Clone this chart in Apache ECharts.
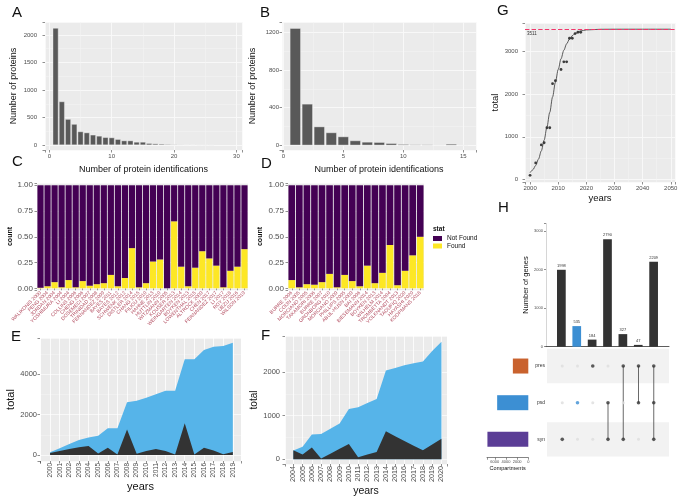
<!DOCTYPE html>
<html><head><meta charset="utf-8">
<script src="https://cdn.jsdelivr.net/npm/echarts@6/dist/echarts.min.js"></script>
<style>html,body{margin:0;padding:0;background:#fff}#c{width:685px;height:498px}</style>
</head><body><div id="c"></div>
<script>
// ---------- DATA ----------
// A
const aIds = [1,2,3,4,5,6,7,8,9,10,11,12,13,14,15,16,17,18,19,20,21,22,23,24,25,26];
const aCounts = [2125,790,470,380,245,225,185,165,140,135,105,80,80,55,55,32,25,20,14,10,8,7,5,4,3,2];
// B
const bIds = [1,2,3,4,5,6,7,8,9,10,11,12,13,14,15];
const bCounts = [1243,439,198,135,92,50,35,32,21,11,7,7,3,14,3];
// C
const cStudies = ["WALIKONIS 2000","PENG 2004","JORDAN 2004","YOSHIMURA 2004","LI 2004","COLLINS 2006","CHENG 2006","DOSEMECI 2007","TRINIDAD 2008","FERNANDEZ 2009","BAYES 2011","BAYES 2012","SCHWENK 2012","DISTLER 2014","CHANG 2015","FILIOU 2010","HAHNE 2013","HUTTLIN 2010","WITZMANN 2005","KOUSER 2013","WEINGARTEN 2014","BOYKEN 2013","LOWENTHAL 2015","ALTROCK 2009","CHEN 2017","FERNANDEZ 2017","LI 2017","ROY 2018","UEZU 2016","WILSON 2019"];
const cFound    = [0.005,0.02,0.06,0.01,0.08,0.01,0.07,0.025,0.04,0.05,0.13,0.02,0.10,0.39,0.01,0.05,0.26,0.28,0.00,0.65,0.21,0.02,0.20,0.36,0.29,0.22,0.01,0.17,0.21,0.38];
const cNotFound = [0.995,0.98,0.94,0.99,0.92,0.99,0.93,0.975,0.96,0.95,0.87,0.98,0.90,0.61,0.99,0.95,0.74,0.72,1.00,0.35,0.79,0.98,0.80,0.64,0.71,0.78,0.99,0.83,0.79,0.62];
// D
const dStudies = ["BURRE 2006","COIJN 2005","MORCIANO 2005","TAKAMORI 2006","BURRE 2007","GRONBORG 2010","MORCIANO 2009","PHILLIPS 2005","ABUL-HUSN 2009","BAI 2006","BIESEMANN 2014","BOYKEN 2013","WILHELM 2014","TROMBETTA 2004","VOLKNANDT 2013","TAOUFIQ 2020","HAYASHI 2020","KOOPMANS 2018"];
const dFound    = [0.08,0.01,0.04,0.035,0.06,0.14,0.01,0.13,0.07,0.02,0.22,0.05,0.15,0.42,0.03,0.17,0.32,0.50];
const dNotFound = [0.92,0.99,0.96,0.965,0.94,0.86,0.99,0.87,0.93,0.98,0.78,0.95,0.85,0.58,0.97,0.83,0.68,0.50];
// E
const eYears = [2000,2001,2002,2003,2004,2005,2006,2007,2008,2009,2010,2011,2012,2013,2014,2015,2016,2017,2018,2019];
const eTotal = [130,330,540,740,870,950,1320,1320,2600,2680,2830,3000,3170,3170,4730,4730,5180,5350,5380,5540];
const eNew   = [100,200,300,380,450,80,360,20,1260,60,200,300,200,20,1570,20,360,220,40,150];
const eMark  = [[2009.8,1500]];
// F
const fYears = [2004,2005,2006,2007,2008,2009,2010,2011,2012,2013,2014,2015,2016,2017,2018,2019,2020];
const fTotal = [200,290,570,580,700,820,1150,1190,1290,1380,2030,2090,2150,2200,2240,2480,2690];
const fNew   = [210,110,270,20,130,240,350,50,110,170,640,530,420,310,210,340,470];
const fMark  = [[2009.3,500],[2009.8,500]];
// G
const gYears = [2000,2002,2004,2005,2006,2007,2008,2009,2011,2012,2013,2014,2015,2016,2017,2018];
const gTotal = [100,390,810,860,1210,1210,2240,2310,2570,2750,2750,3300,3300,3410,3440,3440];
const gFitYears = [2000,2001,2002,2003,2004,2005,2006,2007,2008,2009,2010,2011,2012,2013,2014,2015,2016,2018,2020,2025,2030,2040,2050];
const gFit      = [160,230,330,480,670,920,1230,1570,1930,2270,2570,2820,3020,3170,3280,3360,3410,3470,3495,3509,3511,3511,3511];
const gAsym = 3511;
// H
const hSets = ['syn','psd','pres'];
const hSetSizes = [7324,5581,2767];
const hSetColors = ['#5B3D96','#3C8FD3','#C9622E'];
const hBars = [1998,535,184,2790,327,47,2209];
const hMembers = [['syn'],['psd'],['pres'],['psd','syn'],['pres','syn'],['pres','psd'],['pres','psd','syn']];
const hBarColors = ['#333333','#3C8FD3','#333333','#333333','#333333','#333333','#333333'];
const hBandColors = ['#F2F2F2','rgba(0,0,0,0)','#F2F2F2'];

// ---------- HELPERS ----------
const FONT = "'Liberation Sans', Arial, sans-serif";
function onStep(v, s){ const r = v/s; return Math.abs(r-Math.round(r))<1e-6; }
function valAxis(gi, min, max, step, o){
  o = o||{};
  const lo = o.lo==null ? -Infinity : o.lo, hi = o.hi==null ? Infinity : o.hi;
  const ax = {
    type:'value', gridIndex:gi, min:min, max:max,
    minInterval:step, maxInterval:step, splitNumber:Math.max(2, Math.round((max-min)/step)),
    axisLine:{show:!!o.line, onZero:false, lineStyle:{color:o.lineColor||'#333', width:0.6}},
    axisTick:{show:true, length:o.tick==null?2.5:o.tick, lineStyle:{color:'#444', width:0.6}},
    axisLabel:{show:o.labels!==false, fontSize:o.fs||6, color:'#4D4D4D', margin:o.margin==null?3:o.margin, fontFamily:FONT, rotate:o.rotate||0,
      formatter:function(v){ return (onStep(v,step) && v>=lo-1e-9 && v<=hi+1e-9) ? (o.fmt? o.fmt(v) : String(Math.round(v))) : ''; }},
    splitLine:{show:o.split!==false, lineStyle:{color:'#FFFFFF', width:0.8}},
    name:o.name||'', nameLocation:'middle', nameGap:o.nameGap||14,
    nameTextStyle:{fontSize:o.nameSize||9, color:'#111', fontFamily:FONT, fontWeight:o.nameWeight||'normal'}
  };
  if (o.inverse) ax.inverse = true;
  return ax;
}
// hidden axis that only draws thin (minor) white grid lines
function minorAxis(gi, min, max, step){
  return {type:'value', gridIndex:gi, min:min, max:max, minInterval:step, maxInterval:step,
    splitNumber:Math.max(2, Math.round((max-min)/step)),
    axisLine:{show:false, onZero:false}, axisTick:{show:false}, axisLabel:{show:false},
    splitLine:{show:true, lineStyle:{color:'#F5F5F5', width:0.5}}};
}
function catAxis(gi, data){
  return {type:'category', gridIndex:gi, data:data,
    axisLine:{show:false}, axisTick:{show:true, alignWithLabel:true, length:2, lineStyle:{color:'#444', width:0.5}},
    axisLabel:{interval:0, rotate:45, fontSize:5, color:'#B24A5E', margin:2, fontFamily:FONT},
    splitLine:{show:false}};
}
function grid(l,t,w,h,bg){ return {left:l, top:t, width:w, height:h, show:!!bg, backgroundColor:bg||'transparent', borderWidth:0, containLabel:false, outerBoundsMode:'none'}; }
const PANEL = '#EBEBEB';
const ASYM_RED = '#F0386B';

// matrix dots
const dotsActive = [], dotsInactive = [];
hMembers.forEach((m, i) => {
  hSets.forEach(s => {
    if (m.indexOf(s) >= 0) dotsActive.push({value:[i+1, s], itemStyle:{color: hBarColors[i]}});
    else dotsInactive.push([i+1, s]);
  });
});
const connectSeries = hMembers.map((m, i) => ({
  type:'line', xAxisIndex:8, yAxisIndex:8, silent:true, showSymbol:false, z:3,
  data: m.map(s => [i+1, s]), lineStyle:{color:'#444', width:0.8}
})).filter(s => s.data.length > 1);

const letters = [['A',12,5],['B',260,5],['C',12,154],['D',261,156],['E',11,329],['F',261,328],['G',497,3],['H',498,200]];

const option = {
  animation:false,
  backgroundColor:'#fff',
  textStyle:{fontFamily:FONT},
  grid:[
    grid(45,22,197,128,PANEL),      // A
    grid(282,22,194,128,PANEL),     // B
    grid(37,183,211,107,PANEL),     // C
    grid(288,183,136,107,PANEL),    // D
    grid(40,338,201,123,PANEL),     // E
    grid(285,336,162,128,PANEL),    // F
    grid(525,23,150,159,PANEL),     // G
    grid(546,223.5,123,123.2),      // H bars
    grid(547,347.7,122,110),        // H matrix
    grid(487,347.7,41.3,110)        // H set sizes
  ],
  xAxis:[
    valAxis(0,-0.7,30.9,10,{name:'Number of protein identifications', nameGap:15, nameSize:9, fs:6, margin:3, lo:0, hi:30}),
    valAxis(1,-0.11,16.06,5,{name:'Number of protein identifications', nameGap:15, nameSize:9, fs:6, margin:3, lo:0, hi:15}),
    catAxis(2,cStudies),
    catAxis(3,dStudies),
    valAxis(4,1998.95,2019.85,1,{rotate:90, fs:6.5, name:'years', nameGap:20, nameSize:11, margin:2, lo:2000, hi:2019}),
    valAxis(5,2003.1,2020.6,1,{rotate:90, fs:7.2, name:'years', nameGap:19, nameSize:10.5, margin:2, lo:2004, hi:2020}),
    valAxis(6,1998.2,2051.5,10,{fs:6, name:'years', nameGap:11, nameSize:9.5, margin:3, lo:2000, hi:2050}),
    {type:'value', gridIndex:7, min:0, max:8, axisLine:{show:true, onZero:false, lineStyle:{color:'#333', width:0.8}}, axisTick:{show:false}, axisLabel:{show:false}, splitLine:{show:false}},
    {type:'value', gridIndex:8, min:0, max:8, show:false},
    valAxis(9,0,7400,2000,{inverse:true, fs:4, name:'Compartments', nameGap:8, nameSize:5.5, split:false, margin:2, line:true, tick:2, lo:0, hi:6000}),
    // minor grid lines
    minorAxis(0,-0.7,30.9,5),
    minorAxis(1,-0.11,16.06,2.5),
    minorAxis(6,1998.2,2051.5,5)
  ],
  yAxis:[
    valAxis(0,-90,2235,500,{name:'Number of proteins', nameGap:27, nameSize:9, fs:6, margin:8, lo:0, hi:2000}),
    valAxis(1,-50,1309,400,{name:'Number of proteins', nameGap:25, nameSize:9, fs:6, margin:3, lo:0, hi:1200}),
    valAxis(2,-0.0165,1.022,0.25,{fmt:v=>v.toFixed(2), fs:8, margin:4, name:'count', nameGap:19, nameSize:7, nameWeight:'bold', lo:0, hi:1}),
    valAxis(3,-0.0165,1.022,0.25,{fmt:v=>v.toFixed(2), fs:8, margin:4, name:'count', nameGap:24, nameSize:7, nameWeight:'bold', lo:0, hi:1}),
    valAxis(4,-296,5778,2000,{fs:7.5, margin:3, name:'total', nameGap:17, nameSize:11, lo:0, hi:4000}),
    valAxis(5,-107,2822,1000,{fs:7.5, margin:5, name:'total', nameGap:21, nameSize:10, lo:0, hi:2000}),
    valAxis(6,-56,3656,1000,{fs:6, margin:7, name:'total', nameGap:20, nameSize:9.5, lo:0, hi:3000}),
    valAxis(7,0,3200,1000,{fs:4, margin:3, name:'Number of genes', nameGap:12, nameSize:7.5, split:false, line:true, lineColor:'#bbb', tick:2, lo:0, hi:3000}),
    {type:'category', gridIndex:8, data:hSets, axisLine:{show:false}, axisTick:{show:false}, axisLabel:{fontSize:5, color:'#333', margin:2, fontFamily:FONT}, splitLine:{show:false}},
    {type:'category', gridIndex:9, data:hSets, show:false},
    // minor grid lines
    minorAxis(0,-90,2235,250),
    minorAxis(1,-50,1309,200),
    minorAxis(2,-0.0165,1.022,0.125),
    minorAxis(3,-0.0165,1.022,0.125),
    minorAxis(4,-296,5778,1000),
    minorAxis(5,-107,2822,500),
    minorAxis(6,-56,3656,500)
  ],
  legend:{data:['Not Found','Found'], orient:'vertical', left:433, top:235, itemWidth:9, itemHeight:5, itemGap:0.5, padding:0,
    icon:'rect', selectedMode:false, textStyle:{fontSize:6.5, color:'#111', fontFamily:FONT, lineHeight:5}},
  graphic:[
    {type:'text', left:433, top:226, style:{text:'stat', fontSize:6.5, fontWeight:'bold', fill:'#111', fontFamily:FONT}}
  ].concat(letters.map(l => ({type:'text', left:l[1], top:l[2], style:{text:l[0], fontSize:15, fill:'#111', fontFamily:FONT}}))),
  series:[
    // A
    {type:'bar', xAxisIndex:0, yAxisIndex:0, silent:true, data:aIds.map((x,i)=>[x,aCounts[i]]), barWidth:5.6,
      itemStyle:{color:'#595959', borderColor:'#f2f2f2', borderWidth:0.4}},
    // B
    {type:'bar', xAxisIndex:1, yAxisIndex:1, silent:true, data:bIds.map((x,i)=>[x,bCounts[i]]), barWidth:10.8,
      itemStyle:{color:'#595959', borderColor:'#f2f2f2', borderWidth:0.4}},
    // C
    {type:'bar', name:'Found', xAxisIndex:2, yAxisIndex:2, stack:'c', silent:true, data:cFound, barCategoryGap:'12%', itemStyle:{color:'#FDE725'}},
    {type:'bar', name:'Not Found', xAxisIndex:2, yAxisIndex:2, stack:'c', silent:true, data:cNotFound, barCategoryGap:'12%', itemStyle:{color:'#440154'}},
    // D
    {type:'bar', name:'Found', xAxisIndex:3, yAxisIndex:3, stack:'d', silent:true, data:dFound, barCategoryGap:'12%', itemStyle:{color:'#FDE725'}},
    {type:'bar', name:'Not Found', xAxisIndex:3, yAxisIndex:3, stack:'d', silent:true, data:dNotFound, barCategoryGap:'12%', itemStyle:{color:'#440154'}},
    // E
    {type:'line', xAxisIndex:4, yAxisIndex:4, silent:true, showSymbol:false, data:eYears.map((y,i)=>[y,eTotal[i]]), lineStyle:{width:0}, areaStyle:{color:'#56B4E9', opacity:1}},
    {type:'line', xAxisIndex:4, yAxisIndex:4, silent:true, showSymbol:false, data:eYears.map((y,i)=>[y,eNew[i]]), lineStyle:{width:0}, areaStyle:{color:'#333333', opacity:1}},
    {type:'scatter', xAxisIndex:4, yAxisIndex:4, silent:true, data:eMark, symbol:'rect', symbolSize:[6,3], itemStyle:{color:'#111'}},
    // F
    {type:'line', xAxisIndex:5, yAxisIndex:5, silent:true, showSymbol:false, data:fYears.map((y,i)=>[y,fTotal[i]]), lineStyle:{width:0}, areaStyle:{color:'#56B4E9', opacity:1}},
    {type:'line', xAxisIndex:5, yAxisIndex:5, silent:true, showSymbol:false, data:fYears.map((y,i)=>[y,fNew[i]]), lineStyle:{width:0}, areaStyle:{color:'#333333', opacity:1}},
    {type:'scatter', xAxisIndex:5, yAxisIndex:5, silent:true, data:fMark, symbol:'rect', symbolSize:[3,2.5], itemStyle:{color:'#111'}},
    // G fit curve
    {type:'line', xAxisIndex:6, yAxisIndex:6, silent:true, showSymbol:false, smooth:0.3, smoothMonotone:'x',
      data:gFitYears.map((y,i)=>[y,gFit[i]]), lineStyle:{color:'#333', width:0.8}},
    // G asymptote across the whole panel
    {type:'line', name:'asym', xAxisIndex:6, yAxisIndex:6, silent:true, showSymbol:false, data:[], color:ASYM_RED,
      markLine:{silent:true, symbol:['none','none'], z:6, animation:false,
        data:[[
          {xAxis:'min', yAxis:gAsym, lineStyle:{color:ASYM_RED, type:'dashed', width:1.1}},
          {xAxis:'max', yAxis:gAsym}
        ]],
        itemStyle:{color:ASYM_RED},
        lineStyle:{color:ASYM_RED, type:'dashed', width:1.1, opacity:1},
        emphasis:{disabled:true},
        label:{show:true, position:'insideStartBottom', formatter:String(gAsym), fontSize:4.5, color:'#333', distance:2}}},
    {type:'scatter', xAxisIndex:6, yAxisIndex:6, silent:true, data:gYears.map((y,i)=>[y,gTotal[i]]), symbolSize:2.8, itemStyle:{color:'#111'}},
    // H bars
    {type:'bar', xAxisIndex:7, yAxisIndex:7, silent:true, barWidth:8.7,
      data:hBars.map((v,i)=>({value:[i+1,v], itemStyle:{color:hBarColors[i]}})),
      label:{show:true, position:'top', fontSize:4, color:'#333', distance:2, formatter:p=>String(p.value[1])}},
    // H matrix bands
    {type:'bar', xAxisIndex:8, yAxisIndex:8, silent:true, barCategoryGap:'6%', z:1,
      data:hBandColors.map(c=>({value:8, itemStyle:{color:c}}))},
    {type:'scatter', xAxisIndex:8, yAxisIndex:8, silent:true, data:dotsInactive, symbolSize:3, itemStyle:{color:'#DDDDDD'}, z:4},
    {type:'scatter', xAxisIndex:8, yAxisIndex:8, silent:true, data:dotsActive, symbolSize:3.6, z:5}
  ].concat(connectSeries).concat([
    // H set sizes
    {type:'bar', xAxisIndex:9, yAxisIndex:9, silent:true, barWidth:15,
      data:hSetSizes.map((v,i)=>({value:v, itemStyle:{color:hSetColors[i]}}))}
  ])
};
const chart = echarts.init(document.getElementById('c'), null, {renderer:'canvas'});
chart.setOption(option);
</script>
</body></html>
